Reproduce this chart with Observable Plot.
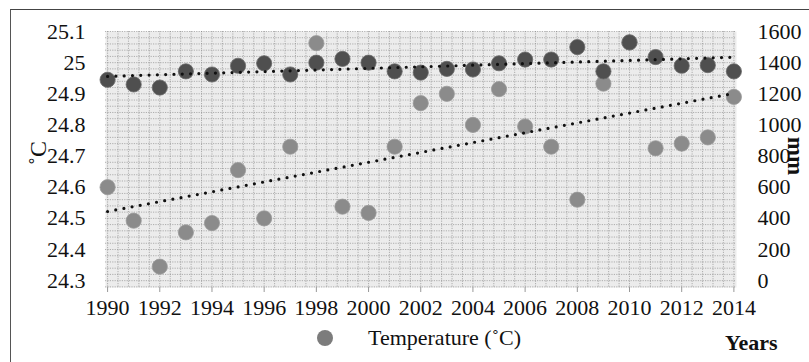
<!DOCTYPE html>
<html>
<head>
<meta charset="utf-8">
<script src="https://cdn.jsdelivr.net/npm/d3@7"></script>
<script src="https://cdn.jsdelivr.net/npm/@observablehq/plot@0.6"></script>
<style>
  html, body { margin: 0; padding: 0; background: #fff; }
  #wrap { position: relative; width: 809px; height: 362px; overflow: hidden; background: #fff;
          font-family: "Liberation Serif", serif; color: #111; }
  #frame { position: absolute; left: 10px; top: 9px; width: 900px; height: 500px;
           border-left: 1px solid #555; border-top: 1.5px solid #444; }
  #chart { position: absolute; left: 0; top: 0; }
  .lab { position: absolute; white-space: nowrap; }
</style>
</head>
<body>
<div id="wrap">
  <div id="frame"></div>
  <div id="chart"></div>
  <div class="lab" style="left:317px; top:330px; width:16px; height:16px; border-radius:50%; background:#7c7c7c;"></div>
  <div class="lab" id="legText" style="left:368px; top:324px; font-size:22px; line-height:28px;"></div>
  <div class="lab" id="xTitle" style="left:725px; top:329px; font-size:22px; line-height:28px; font-weight:bold;"></div>
  <div class="lab" id="yTitle" style="left:38px; top:153px; font-size:24px; line-height:24px; transform: translate(-50%,-50%) rotate(-90deg);"></div>
  <div class="lab" id="y2Title" style="left:795px; top:156px; font-size:23px; line-height:23px; font-weight:bold; transform: translate(-50%,-50%) rotate(90deg);"></div>
</div>
<script>
// ---- data ----
const years = [1990, 1991, 1992, 1993, 1994, 1995, 1996, 1997, 1998, 1999, 2000, 2001, 2002,
               2003, 2004, 2005, 2006, 2007, 2008, 2009, 2010, 2011, 2012, 2013, 2014];
const temperature = [24.945, 24.93, 24.92, 24.972, 24.962, 24.99, 24.998, 24.962, 25.0, 25.012,
                     25.0, 24.972, 24.968, 24.98, 24.978, 24.998, 25.01, 25.01, 25.05, 24.972,
                     25.065, 25.018, 24.99, 24.992, 24.972];
const rainfall = [600, 385, 90, 310, 370, 710, 400, 860, 1525, 475, 435, 860, 1140, 1200, 1000,
                  1230, 990, 860, 520, 1265, 1530, 850, 880, 920, 1180];
const xTicks = [1990, 1992, 1994, 1996, 1998, 2000, 2002, 2004, 2006, 2008, 2010, 2012, 2014];
const tempTicks = [24.3, 24.4, 24.5, 24.6, 24.7, 24.8, 24.9, 25.0, 25.1];
const rainTicks = [0, 200, 400, 600, 800, 1000, 1200, 1400, 1600];
const legendLabel = "Temperature (˚C)";
const xTitle = "Years";
const yTitle = "˚C";
const y2Title = "mm";

// secondary axis: 0 mm <-> 24.3 °C, 1600 mm <-> 25.1 °C
const toC = mm => 24.3 + mm / 2000;
const toMM = c => Math.round((c - 24.3) * 2000);

const rows = years.map((year, i) => ({year, temp: temperature[i], rain: rainfall[i]}));

const minorX = d3.range(1990, 2014.01, 0.4);
const minorY = d3.range(24.28, 25.101, 0.02);

const font = {fontFamily: "Liberation Serif", fontSize: 22, fill: "#111"};
const gridStyle = {stroke: "#7a7a7a", strokeOpacity: 0.55, strokeDasharray: "1.2,1.2", strokeWidth: 1};
const trendStyle = {ci: 0, stroke: "#111", strokeWidth: 3.2, strokeDasharray: "0,8.3", strokeLinecap: "round"};

const chart = Plot.plot({
  width: 809,
  height: 320,
  marginLeft: 105,
  marginRight: 73,
  marginTop: 31,
  marginBottom: 33,
  x: {domain: [1989.92, 2014.1]},
  y: {domain: [24.278, 25.1]},
  style: {fontFamily: "Liberation Serif", fontSize: "22px", color: "#111", background: "transparent"},
  marks: [
    Plot.frame({fill: "#ececec", stroke: "none"}),
    Plot.gridX(minorX, gridStyle),
    Plot.gridY(minorY, gridStyle),
    Plot.axisX(xTicks, {...font, tickSize: 5, tickPadding: 7, stroke: "#999", tickFormat: d => String(d), label: null}),
    Plot.axisY(tempTicks, {...font, anchor: "left", tickSize: 0, tickPadding: 20, tickFormat: d => String(+d.toFixed(1)), label: null}),
    Plot.axisY(rainTicks.map(toC), {...font, anchor: "right", tickSize: 0, tickPadding: 21, tickFormat: d => String(toMM(d)), label: null}),
    Plot.dot(rows, {x: "year", y: d => toC(d.rain), r: 7.6, fill: "#8b8b8b", stroke: "#9a9a9a", strokeWidth: 0.8}),
    Plot.dot(rows, {x: "year", y: "temp", r: 7.6, fill: "#4f4f4f", stroke: "#6a6a6a", strokeWidth: 0.8}),
    Plot.linearRegressionY(rows, {x: "year", y: d => toC(d.rain), ...trendStyle}),
    Plot.linearRegressionY(rows, {x: "year", y: "temp", ...trendStyle})
  ]
});
d3.select(chart).selectAll("text").style("font-family", "Liberation Serif").style("font-variant-numeric", "normal");
document.getElementById("chart").appendChild(chart);
document.getElementById("legText").textContent = legendLabel;
document.getElementById("xTitle").textContent = xTitle;
document.getElementById("yTitle").textContent = yTitle;
document.getElementById("y2Title").textContent = y2Title;
</script>
</body>
</html>
